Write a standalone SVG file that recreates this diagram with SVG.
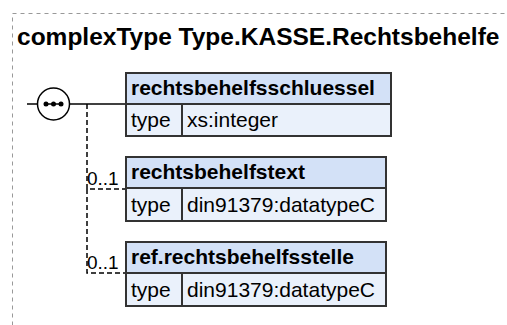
<svg xmlns="http://www.w3.org/2000/svg" width="507" height="325" viewBox="0 0 507 325">
<style>
.title{font-family:"Liberation Sans",Arial,sans-serif;font-weight:bold;font-size:24.5px;fill:#000}
.hdr{fill:#d3e1f7;stroke:#333;stroke-width:2}
.row{fill:#eaf1fb;stroke:#333;stroke-width:2}
.name{font-family:"Liberation Sans",Arial,sans-serif;font-weight:bold;font-size:21px;fill:#000}
.txt{font-family:"Liberation Sans",Arial,sans-serif;font-size:21px;fill:#000}
.occ{font-family:"Liberation Sans",Arial,sans-serif;font-size:19px;fill:#000}
.solid{stroke:#000;stroke-width:1.5;fill:none}
.dash{stroke:#000;stroke-width:1.5;fill:none;stroke-dasharray:5,3}
</style>
<rect x="12.5" y="13.5" width="520" height="340" fill="none" stroke="#999" stroke-width="1" stroke-dasharray="4,4"/>
<text class="title" x="17" y="45">complexType Type.KASSE.Rechtsbehelfe</text>
<g id="connectors">
<line class="solid" x1="27" y1="104" x2="38" y2="104"/>
<line class="solid" x1="69" y1="104" x2="125" y2="104"/>
<polyline class="dash" points="87,104 87,189 125,189"/>
<polyline class="dash" points="87,189 87,273 125,273"/>
<text class="occ" x="87" y="185">0..1</text>
<text class="occ" x="87" y="269">0..1</text>
</g>
<g id="sequence">
<circle cx="53.5" cy="104" r="16" fill="#fff" stroke="#000" stroke-width="1.5"/>
<line x1="45" y1="104" x2="62" y2="104" stroke="#000" stroke-width="1.5"/>
<circle cx="46" cy="104" r="2.5" fill="#000"/>
<circle cx="53.5" cy="104" r="2.5" fill="#000"/>
<circle cx="61" cy="104" r="2.5" fill="#000"/>
</g>
<g id="rechtsbehelfsschluessel">
<rect class="hdr" x="126" y="73" width="265" height="31"/>
<rect class="row" x="126" y="104" width="265" height="32"/>
<line x1="182" y1="104" x2="182" y2="136" stroke="#333" stroke-width="2"/>
<text class="name" x="131" y="95">rechtsbehelfsschluessel</text>
<text class="txt" x="131" y="127">type</text>
<text class="txt" x="187" y="127">xs:integer</text>
</g>
<g id="rechtsbehelfstext">
<rect class="hdr" x="126" y="157" width="260" height="31"/>
<rect class="row" x="126" y="188" width="260" height="33"/>
<line x1="182" y1="188" x2="182" y2="221" stroke="#333" stroke-width="2"/>
<text class="name" x="131" y="179">rechtsbehelfstext</text>
<text class="txt" x="131" y="212">type</text>
<text class="txt" x="187" y="212">din91379:datatypeC</text>
</g>
<g id="ref.rechtsbehelfsstelle">
<rect class="hdr" x="126" y="242" width="260" height="31"/>
<rect class="row" x="126" y="273" width="260" height="33"/>
<line x1="182" y1="273" x2="182" y2="306" stroke="#333" stroke-width="2"/>
<text class="name" x="131" y="264">ref.rechtsbehelfsstelle</text>
<text class="txt" x="131" y="297">type</text>
<text class="txt" x="187" y="297">din91379:datatypeC</text>
</g>
</svg>
